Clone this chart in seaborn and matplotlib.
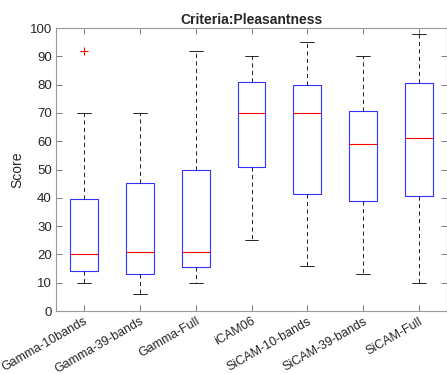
import matplotlib
matplotlib.use("Agg")
import matplotlib.pyplot as plt
import matplotlib.transforms as mtransforms
import seaborn as sns
import pandas as pd

sns.set_theme(style="white")
plt.rcParams['font.family'] = ['Liberation Sans', 'DejaVu Sans']

# Data (scores per method: whisker ends, quartiles, median, outliers)
methods = ["Gamma-10bands", "Gamma-39-bands", "Gamma-Full", "iCAM06",
           "SiCAM-10-bands", "SiCAM-39-bands", "SiCAM-Full"]
gamma_10 = [10, 14.3, 14.3, 20, 20, 20, 39.7, 70, 92]
gamma_39 = [6, 13, 13, 20.7, 20.7, 20.7, 45.4, 70, 70]
gamma_full = [10, 15.4, 15.4, 20.8, 20.8, 20.8, 49.8, 92, 92]
icam06 = [25, 51, 51, 70, 70, 70, 81, 90, 90]
sicam_10 = [16, 41.2, 41.2, 70, 70, 70, 80, 95, 95]
sicam_39 = [13, 39, 39, 58.9, 58.9, 58.9, 70.8, 90, 90]
sicam_full = [10, 40.6, 40.6, 61.1, 61.1, 61.1, 80.7, 98, 98]
scores = [gamma_10, gamma_39, gamma_full, icam06, sicam_10, sicam_39, sicam_full]

df = pd.DataFrame({
    "method": [m for m, s in zip(methods, scores) for _ in s],
    "score": [v for s in scores for v in s],
})

fig = plt.figure(figsize=(4.47, 3.74), dpi=100)
ax = fig.add_axes([0.1253, 0.1684, 0.8747, 0.7566])

sns.boxplot(data=df, x="method", y="score", order=methods, ax=ax,
            fill=False, width=0.5, color=(0.2, 0.2, 1.0), linewidth=0.8, whis=1.5,
            whiskerprops=dict(color="black", linestyle=(0, (5, 4)), linewidth=0.6),
            capprops=dict(color="black", linewidth=0.6),
            medianprops=dict(color="red", linewidth=0.8),
            flierprops=dict(marker="+", markeredgecolor="red", markersize=6,
                            markeredgewidth=0.8))

ax.set_xlim(-0.5, 6.5)
ax.set_ylim(0, 100)
ax.set_yticks(range(0, 101, 10))
ax.set_title("Criteria:Pleasantness", fontsize=10, fontweight="bold", pad=3)
ax.set_ylabel("Score", fontsize=10, color="0.15")
ax.set_xlabel("")
ax.set_xticks(range(len(methods)))
ax.set_xticklabels(methods, rotation=30, ha="right", va="top",
                   rotation_mode="anchor", fontsize=9)
offset = mtransforms.ScaledTranslation(0.06, -0.07, fig.dpi_scale_trans)
for lbl in ax.get_xticklabels():
    lbl.set_transform(lbl.get_transform() + offset)

for sp in ax.spines.values():
    sp.set_visible(True)
    sp.set_color("0.6")
    sp.set_linewidth(0.8)
ax.tick_params(direction="in", length=4, width=0.6, color="0.4",
               labelcolor="0.15",
               top=True, right=True, bottom=True, left=True, pad=3)
ax.tick_params(axis="y", labelsize=9.5)

fig.savefig("out.png", dpi=100)
